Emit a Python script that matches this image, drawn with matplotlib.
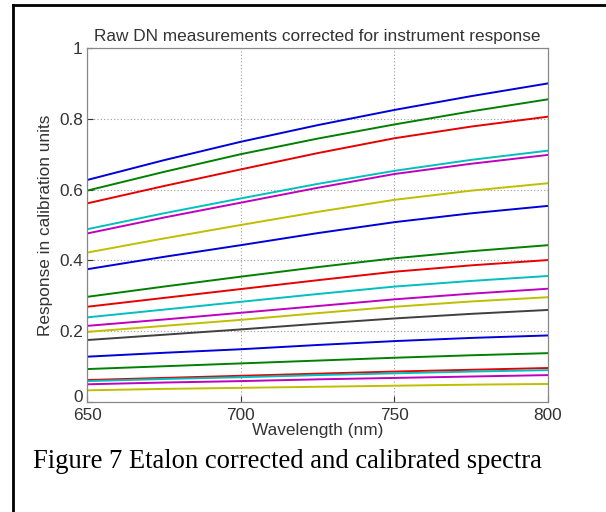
import matplotlib
matplotlib.use("Agg")
import matplotlib.pyplot as plt
from matplotlib.lines import Line2D
import matplotlib.transforms as mtransforms

wavelength = [650, 675, 700, 725, 750, 775, 800]

spectra = [
    [0.627, 0.683, 0.735, 0.782, 0.825, 0.864, 0.900],
    [0.597, 0.650, 0.700, 0.744, 0.784, 0.821, 0.855],
    [0.561, 0.610, 0.657, 0.703, 0.745, 0.778, 0.806],
    [0.488, 0.533, 0.575, 0.616, 0.653, 0.684, 0.710],
    [0.476, 0.521, 0.563, 0.605, 0.644, 0.673, 0.698],
    [0.422, 0.462, 0.500, 0.537, 0.571, 0.597, 0.618],
    [0.375, 0.410, 0.443, 0.477, 0.508, 0.533, 0.554],
    [0.297, 0.326, 0.354, 0.381, 0.406, 0.426, 0.443],
    [0.269, 0.294, 0.319, 0.344, 0.368, 0.386, 0.401],
    [0.239, 0.261, 0.283, 0.305, 0.326, 0.342, 0.356],
    [0.215, 0.233, 0.252, 0.271, 0.290, 0.306, 0.320],
    [0.198, 0.215, 0.232, 0.251, 0.269, 0.284, 0.296],
    [0.175, 0.190, 0.205, 0.221, 0.236, 0.249, 0.260],
    [0.128, 0.139, 0.149, 0.161, 0.172, 0.181, 0.188],
    [0.093, 0.101, 0.109, 0.117, 0.125, 0.132, 0.138],
    [0.062, 0.068, 0.074, 0.080, 0.086, 0.091, 0.096],
    [0.059, 0.065, 0.070, 0.076, 0.081, 0.086, 0.090],
    [0.050, 0.055, 0.059, 0.064, 0.068, 0.072, 0.076],
    [0.033, 0.037, 0.040, 0.043, 0.046, 0.049, 0.051],
]

line_colors = ["b", "g", "r", "c", "m", "y", "b", "g", "r", "c", "m", "y",
               "k", "b", "g", "r", "c", "m", "y"]

x_ticks = [650, 700, 750, 800]
y_ticks = [0, 0.2, 0.4, 0.6, 0.8, 1]
y_tick_labels = ["0", "0.2", "0.4", "0.6", "0.8", "1"]

title = "Raw DN measurements corrected for instrument response"
xlabel = "Wavelength (nm)"
ylabel = "Response in calibration units"
caption = "Figure 7 Etalon corrected and calibrated spectra"

cmap = {"b": (0.0, 0.0, 0.85), "g": (0.0, 0.5, 0.0), "r": (0.9, 0.0, 0.0),
        "c": (0.0, 0.75, 0.75), "m": (0.75, 0.0, 0.75), "y": (0.75, 0.75, 0.0),
        "k": (0.25, 0.25, 0.25)}

plt.rcParams["font.family"] = ["Liberation Sans", "DejaVu Sans"]

fig = plt.figure(figsize=(6.06, 5.12), dpi=100)
ax = fig.add_axes([87 / 606, 1 - 402 / 512, 461 / 606, 354 / 512])

for vals, c in zip(spectra, line_colors):
    ax.plot(wavelength, vals, color=cmap[c], lw=1.4)

ax.set_xlim(650, 800)
ax.set_ylim(0, 1)
ax.set_xticks(x_ticks)
ax.set_yticks(y_ticks)
ax.set_yticklabels(y_tick_labels)
ax.grid(True, linestyle=(0, (1, 2)), color="#9a9a9a", lw=0.8)
ax.tick_params(direction="in", length=4, labelsize=12.4, colors="#333333",
               pad=3)
ax.tick_params(axis="x", pad=4)
for sp in ax.spines.values():
    sp.set_color("#888888")
    sp.set_linewidth(0.9)

# MATLAB places the "0" label slightly above the axis corner
fig.canvas.draw()
zero_lbl = ax.get_yticklabels()[0]
zero_lbl.set_transform(zero_lbl.get_transform() +
                       mtransforms.ScaledTranslation(0, 6 / 100,
                                                     fig.dpi_scale_trans))

ax.set_title(title, fontsize=12.4, color="#333333", pad=5)
ax.set_xlabel(xlabel, fontsize=12.4, color="#333333", labelpad=0)
ax.set_ylabel(ylabel, fontsize=12.4, color="#333333", labelpad=4)

fig.text(33 / 606, 1 - 468 / 512, caption, family="Liberation Serif",
         fontsize=19.2, color="black", ha="left", va="baseline")

# page frame lines (left and top)
fig.add_artist(Line2D([13 / 606, 13 / 606], [0, 1 - 5 / 512],
                      transform=fig.transFigure, color="black", lw=2))
fig.add_artist(Line2D([13 / 606, 1], [1 - 5 / 512, 1 - 5 / 512],
                      transform=fig.transFigure, color="black", lw=2))

fig.savefig("out.png", dpi=100)
